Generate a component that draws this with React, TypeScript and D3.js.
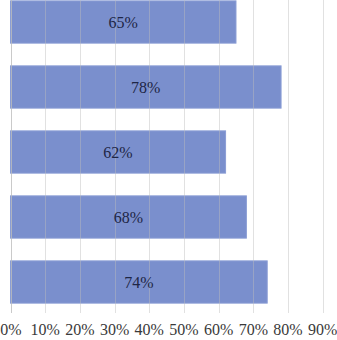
import { useEffect, useRef } from "react";
import * as d3 from "d3";

const width = 337;
const height = 340;

// chart values (top bar is cut off at the top in the original)
const categories = ["Item 1", "Item 2", "Item 3", "Item 4", "Item 5"];
const values = [65, 78, 62, 68, 74];
const tickValues = [0, 10, 20, 30, 40, 50, 60, 70, 80, 90];

const gridBottom = 313;

const App = () => {
  const gridRef = useRef<SVGGElement>(null);

  const xScale = d3.scaleLinear().domain([0, 90]).range([10.5, 322.7]);

  const yScale = d3
    .scaleBand<string>()
    .domain(categories)
    .range([-10.5, 314.5])
    .paddingInner(0.35)
    .paddingOuter(0.175);

  useEffect(() => {
    const g = d3.select(gridRef.current);
    g.selectAll("*").remove();
    g.selectAll("line")
      .data(tickValues)
      .join("line")
      .attr("x1", (d) => Math.round(xScale(d)) + 0.5)
      .attr("x2", (d) => Math.round(xScale(d)) + 0.5)
      .attr("y1", 0)
      .attr("y2", gridBottom)
      .attr("stroke", "#bdbdbd")
      .attr("stroke-opacity", (d) => (d === 0 ? 0.8 : 0.45))
      .attr("stroke-width", 1);
  }, []);

  return (
    <div style={{ position: "absolute", left: 0, top: 0, width, height, overflow: "hidden" }}>
      <svg
        width={width}
        height={height}
        style={{ display: "block", background: "#fff" }}
        fontFamily="'Liberation Serif', 'Times New Roman', serif"
      >
        <g className="bars">
          {values.map((v, i) => (
            <rect
              key={categories[i]}
              x={xScale(0)}
              y={yScale(categories[i])}
              width={xScale(v) - xScale(0)}
              height={yScale.bandwidth()}
              fill="#7a8fcd"
              stroke="#8a9dd5"
              strokeWidth={1}
            />
          ))}
        </g>
        {/* gridlines sit on top of the bars */}
        <g className="grid" ref={gridRef}></g>
        <g className="labels">
          {values.map((v, i) => (
            <text
              key={categories[i]}
              x={(xScale(0) + xScale(v)) / 2}
              y={(yScale(categories[i]) ?? 0) + yScale.bandwidth() / 2}
              dy="0.35em"
              textAnchor="middle"
              fontSize={16}
              fill="#1e2645"
            >
              {v}%
            </text>
          ))}
        </g>
        <g className="x-axis">
          {tickValues.map((t) => (
            <text
              key={t}
              x={Math.max(xScale(t), 11)}
              y={335}
              textAnchor="middle"
              fontSize={16}
              fill="#3a3a3a"
            >
              {t}%
            </text>
          ))}
        </g>
      </svg>
    </div>
  );
};

export default App;
